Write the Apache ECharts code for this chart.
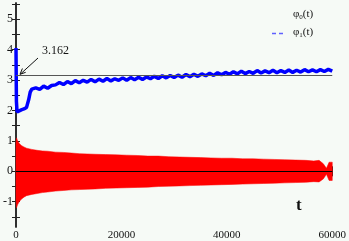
<!DOCTYPE html>
<html><head><meta charset="utf-8">
<script src="https://cdn.jsdelivr.net/npm/echarts@6/dist/echarts.min.js"></script>
<style>html,body{margin:0;padding:0;background:#f6faf6}#c{width:349px;height:241px}</style>
</head><body><div id="c"></div>
<script>
// ---- data ----
const xTickLabels = [0, 20000, 40000, 60000];
const yTickLabels = [-1, 0, 1, 2, 3, 4, 5];
const yMinorTicks = [-1.5, -0.5, 0.5, 1.5, 2.5, 3.5, 4.5, 5.5];
const refLevel = 3.162;

// phi0(t): envelope of the dense oscillation (red band)
const phi0T = [0, 100, 300, 600, 1000, 1500, 2000, 3000, 4000, 5000, 6000, 7500, 9000, 10500, 12000, 13500, 15000, 17000, 19000, 21000, 23000, 25000, 27000, 29000, 31000, 33000, 35000, 37000, 39000, 41000, 43000, 45000, 47000, 49000, 51000, 53000, 55000, 56500, 57500, 58300, 58900, 59400, 60000];
const phi0Upper = [0.95, 1.1, 1.0, 0.92, 0.85, 0.8, 0.76, 0.72, 0.69, 0.67, 0.66, 0.63, 0.62, 0.6, 0.58, 0.57, 0.56, 0.55, 0.54, 0.53, 0.52, 0.5, 0.5, 0.48, 0.47, 0.46, 0.45, 0.44, 0.43, 0.43, 0.41, 0.41, 0.4, 0.39, 0.38, 0.37, 0.36, 0.34, 0.36, 0.25, 0.1, 0.3, 0.3];
const phi0Lower = [-0.95, -1.2, -1.1, -1.0, -0.92, -0.85, -0.8, -0.76, -0.73, -0.7, -0.68, -0.65, -0.63, -0.61, -0.6, -0.59, -0.58, -0.56, -0.55, -0.54, -0.53, -0.52, -0.5, -0.49, -0.48, -0.47, -0.46, -0.45, -0.44, -0.43, -0.42, -0.41, -0.4, -0.39, -0.38, -0.37, -0.36, -0.34, -0.35, -0.25, -0.1, -0.3, -0.3];

// phi1(t): noisy rising curve (blue)
const phi1T = [0, 80, 200, 500, 1000, 1500, 2000, 2400, 2700, 3000,
  3750, 4500, 5250, 6000, 6750, 7500, 8250, 9000, 9750, 10500, 11250, 12000, 12750, 13500, 14250, 15000, 15750, 16500, 17250, 18000, 18750, 19500,
  20250, 21000, 21750, 22500, 23250, 24000, 24750, 25500, 26250, 27000, 27750, 28500, 29250, 30000, 30750, 31500, 32250, 33000, 33750, 34500, 35250, 36000, 36750, 37500, 38250, 39000, 39750,
  40500, 41250, 42000, 42750, 43500, 44250, 45000, 45750, 46500, 47250, 48000, 48750, 49500, 50250, 51000, 51750, 52500, 53250, 54000, 54750, 55500, 56250, 57000, 57750, 58500, 59250, 60000];
const phi1V = [4.05, 2.3, 1.95, 2.0, 2.02, 2.05, 2.1, 2.35, 2.6, 2.7,
  2.74, 2.69, 2.8, 2.73, 2.82, 2.84, 2.92, 2.85, 2.95, 2.88, 2.98, 2.91, 2.99, 2.93, 3.02, 2.94, 3.03, 2.96, 3.05, 2.97, 3.04, 2.99,
  3.07, 2.99, 3.08, 3.01, 3.09, 3.02, 3.1, 3.04, 3.12, 3.05, 3.14, 3.07, 3.15, 3.08, 3.16, 3.09, 3.18, 3.11, 3.19, 3.12, 3.2, 3.14, 3.22, 3.15, 3.24, 3.17, 3.25,
  3.19, 3.27, 3.2, 3.29, 3.21, 3.28, 3.22, 3.31, 3.23, 3.3, 3.24, 3.32, 3.24, 3.31, 3.25, 3.33, 3.25, 3.32, 3.26, 3.34, 3.27, 3.33, 3.27, 3.34, 3.28, 3.35, 3.29];

// ---- build chart ----
const phi1Data = phi1T.map((t, i) => [t, phi1V[i]]);
const yAllTicks = yTickLabels.concat(yMinorTicks).sort((a, b) => a - b);

const FONT = 'Liberation Serif';
const yMin = -1.83, yMax = 5.53;
const axLine = {show: true, lineStyle: {color: '#222', width: 1.5}};

function yAx(pos, labels) {
  return {type: 'value', min: yMin, max: yMax, position: pos, splitLine: {show: false},
    axisLine: axLine,
    axisTick: {show: true, inside: true, length: 4, customValues: yAllTicks, lineStyle: {color: '#222', width: 1}},
    axisLabel: {show: labels, customValues: yTickLabels, fontFamily: FONT, fontSize: 12, color: '#111', margin: 3,
      formatter: v => String(v)}};
}
function xAx(pos, labels) {
  return {type: 'value', min: 0, max: 60000, interval: 20000, position: pos, splitLine: {show: false},
    axisLine: axLine,
    axisTick: {show: true, inside: true, length: 5, lineStyle: {color: '#222', width: 1}},
    minorTick: {show: true, splitNumber: 2, length: 3, lineStyle: {color: '#222', width: 1}},
    axisLabel: labels ? {show: true, fontFamily: FONT, fontSize: 11, color: '#111', margin: 3, showMaxLabel: true, showMinLabel: true, formatter: v => String(v)} : {show: false}};
}

function renderBand(params, api) {
  const pts = [];
  for (let i = 0; i < phi0T.length; i++) pts.push(api.coord([phi0T[i], phi0Upper[i]]));
  for (let i = phi0T.length - 1; i >= 0; i--) pts.push(api.coord([phi0T[i], phi0Lower[i]]));
  return {type: 'polygon', shape: {points: pts}, style: {fill: '#ff0000', stroke: '#ff0000', lineWidth: 0.5}};
}

const chart = echarts.init(document.getElementById('c'), null, {renderer: 'canvas'});
chart.setOption({
  backgroundColor: '#f6faf6',
  animation: false,
  grid: {left: 11, right: 16, top: 3, bottom: 12, containLabel: false},
  xAxis: [xAx('bottom', true), xAx('top', false)],
  yAxis: [yAx('left', true), yAx('right', false)],
  series: [
    {type: 'custom', data: [[0, 0]], renderItem: renderBand, silent: true, z: 1},
    {type: 'line', data: [], symbol: 'none', silent: true, z: 2,
     markLine: {symbol: 'none', silent: true, label: {show: false},
       data: [{yAxis: 0, lineStyle: {color: '#000', width: 1, type: 'solid'}},
              {yAxis: refLevel, lineStyle: {color: '#555', width: 1, type: 'solid'}}]}},
    {type: 'line', data: phi1Data, symbol: 'none', lineStyle: {color: '#0000ff', width: 3.5}, z: 3}
  ],
  graphic: [
    {type: 'text', left: 42, top: 45, style: {text: '3.162', font: '12px "Liberation Serif"', fill: '#111'}},
    {type: 'line', shape: {x1: 38, y1: 58, x2: 20.5, y2: 74}, style: {stroke: '#111', lineWidth: 1}},
    {type: 'polyline', shape: {points: [[25.7, 72.3], [20, 74.3], [22.4, 68.5]]}, style: {stroke: '#111', lineWidth: 1, fill: 'none'}},
    {type: 'text', left: 293, top: 9, style: {rich: {a: {fontFamily: FONT, fontSize: 11, fill: '#111'}, s: {fontFamily: FONT, fontSize: 7, fill: '#111', verticalAlign: 'bottom', padding: [6, 0, 0, 0]}}, text: '{a|φ}{s|0}{a|(t)}'}},
    {type: 'text', left: 293, top: 27, style: {rich: {a: {fontFamily: FONT, fontSize: 11, fill: '#111'}, s: {fontFamily: FONT, fontSize: 7, fill: '#111', verticalAlign: 'bottom', padding: [6, 0, 0, 0]}}, text: '{a|φ}{s|1}{a|(t)}'}},
    {type: 'line', shape: {x1: 272, y1: 33.5, x2: 285, y2: 33.5}, style: {stroke: '#6060ff', lineWidth: 1.5, lineDash: [4, 3]}},
    {type: 'text', left: 296, top: 197, style: {text: 't', font: 'bold 17px "Liberation Serif"', fill: '#111'}}
  ]
});
</script></body></html>
